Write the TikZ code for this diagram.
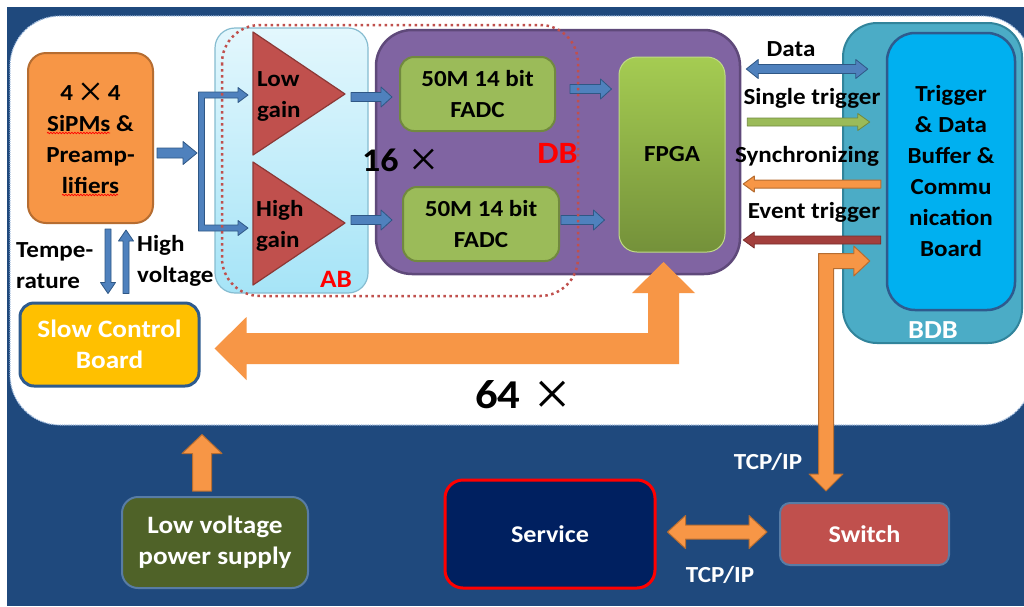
\documentclass[tikz,border=0pt]{standalone}
\usepackage{fontspec}
\setmainfont{Carlito}[FakeStretch=1.09]
\newfontfamily\thinfont{Liberation Serif}
\usetikzlibrary{calc,decorations.pathmorphing}

\definecolor{navy}{HTML}{1F497D}
\definecolor{regionedge}{HTML}{9DB9DC}
\definecolor{orangeF}{HTML}{F79646}
\definecolor{orangeD}{HTML}{B66D31}
\definecolor{blueF}{HTML}{4F81BD}
\definecolor{blueD}{HTML}{2F5785}
\definecolor{redF}{HTML}{C0504D}
\definecolor{redD}{HTML}{8C3836}
\definecolor{greenF}{HTML}{9BBB59}
\definecolor{greenD}{HTML}{71893F}
\definecolor{purpleF}{HTML}{8064A2}
\definecolor{purpleD}{HTML}{5F497A}
\definecolor{cyanTop}{HTML}{E3F7FD}
\definecolor{cyanBot}{HTML}{A6E4F7}
\definecolor{cyanD}{HTML}{86BCD0}
\definecolor{tealF}{HTML}{4BACC6}
\definecolor{tealD}{HTML}{31849B}
\definecolor{skyF}{HTML}{00B0F0}
\definecolor{boardD}{HTML}{2E5B8E}
\definecolor{goldF}{HTML}{FFC000}
\definecolor{oliveF}{HTML}{4F6228}
\definecolor{serviceF}{HTML}{002060}
\definecolor{fpgaTop}{HTML}{A5CC52}
\definecolor{fpgaBot}{HTML}{74913A}
\definecolor{evtF}{HTML}{A33F3C}
\definecolor{evtD}{HTML}{7A2C2A}

% thin multiplication sign: {size}{vertical shift}
\newcommand\timessign[2]{\raisebox{#2}{\thinfont\mdseries\fontsize{#1}{#1}\selectfont ×}}

% block arrow: [style]{from}{to}{shaft half width}{head half width}{head length}
\newcommand\blockarrow[6][]{%
  \coordinate (bahead) at ($(#3)!#6!(#2)$);
  \path[#1] ($(#2)!#4!90:(#3)$) -- ($(bahead)!#4!90:(#3)$) -- ($(bahead)!#5!90:(#3)$)
    -- (#3) -- ($(bahead)!#5!-90:(#3)$) -- ($(bahead)!#4!-90:(#3)$)
    -- ($(#2)!#4!-90:(#3)$) -- cycle;}
% double-headed block arrow, same arguments
\newcommand\dblarrow[6][]{%
  \coordinate (daA) at ($(#2)!#6!(#3)$);
  \coordinate (daB) at ($(#3)!#6!(#2)$);
  \path[#1] (#2) -- ($(daA)!#5!90:(#3)$) -- ($(daA)!#4!90:(#3)$) -- ($(daB)!#4!90:(#3)$)
    -- ($(daB)!#5!90:(#3)$) -- (#3) -- ($(daB)!#5!-90:(#3)$) -- ($(daB)!#4!-90:(#3)$)
    -- ($(daA)!#4!-90:(#3)$) -- ($(daA)!#5!-90:(#3)$) -- cycle;}

\begin{document}
\begin{tikzpicture}[x=1pt,y=-1pt,line join=round,
  txt/.style={font=\fontsize{23}{31}\selectfont\bfseries,align=center,inner sep=0pt},
  wtxt/.style={txt,text=white},
  arrowblue/.style={fill=blueF,draw=blueD,line width=0.8pt},
  arroworange/.style={fill=orangeF,draw=orangeD,line width=1pt},
  arrowgreen/.style={fill=greenF,draw=greenD,line width=0.8pt},
  arrowevt/.style={fill=evtF,draw=evtD,line width=0.8pt},
  bigorange/.style={fill=orangeF},
  squiggle/.style={red,line width=0.7pt,decorate,decoration={snake,amplitude=0.8pt,segment length=3pt}}]
\useasboundingbox (0,0) rectangle (1024,606);

% backdrop and the 64-fold detector unit region
\fill[navy] (7,7) rectangle (1024,606);
\path[fill=white,draw=regionedge,densely dotted,line width=1.2pt,rounded corners=50pt]
  (10,16) rectangle (1032,425);

% SiPM front end
\node[txt,draw=orangeD,fill=orangeF,line width=2pt,rounded corners=18pt,
  minimum width=125pt,minimum height=170pt] (sipm) at (90.5,138)
  {4\hspace{5pt}\timessign{44}{-6pt}\hspace{5pt}4\\SiPMs \&\\Preamp-\\lifiers};
\draw[squiggle] ($(sipm.center)+(-43.5,-5)$) -- ($(sipm.center)+(19.5,-5)$);
\draw[squiggle] ($(sipm.center)+(-28.5,57)$) -- ($(sipm.center)+(27.5,57)$);

% analog board
\node[draw=cyanD,top color=cyanTop,bottom color=cyanBot,line width=1.2pt,
  rounded corners=20pt,minimum width=153pt,minimum height=265pt] (ab) at (291.5,160.5) {};
\node[txt,font=\fontsize{25}{25}\selectfont\bfseries,text=red,anchor=base] (ablbl) at (336,287) {AB};

\path[draw=redD,fill=redF,line width=1.2pt]
  (253,32) -- (253,155) -- (345,94) coordinate (lgtip) -- cycle;
\node[txt,align=left,anchor=west] (lgtxt) at (257,96) {Low\\gain};
\path[draw=redD,fill=redF,line width=1.2pt]
  (253,162) -- (253,285) -- (345,223) coordinate (hgtip) -- cycle;
\node[txt,align=left,anchor=west] (hgtxt) at (256,226) {High\\gain};

% digitizer board
\node[draw=purpleD,fill=purpleF,line width=2.5pt,rounded corners=36pt,
  minimum width=364pt,minimum height=244pt] (db) at (558,152) {};
\node[txt,draw=greenD,fill=greenF,line width=2pt,rounded corners=14pt,
  minimum width=155pt,minimum height=74pt] (fadcA) at (477.5,94) {50M 14 bit\\FADC};
\node[txt,draw=greenD,fill=greenF,line width=2pt,rounded corners=14pt,
  minimum width=156pt,minimum height=74pt] (fadcB) at (481,224) {50M 14 bit\\FADC};
\node[txt,draw=fpgaTop!70!white,top color=fpgaTop,bottom color=fpgaBot,line width=1pt,
  rounded corners=18pt,minimum width=106pt,minimum height=195pt] (fpga) at (672,154.5) {FPGA};
\node[txt,font=\fontsize{33}{33}\selectfont\bfseries,anchor=base west] (sixteen) at (362,171)
  {16\hspace{11pt}\timessign{51}{-5pt}};
\node[txt,font=\fontsize{31}{31}\selectfont\bfseries,text=red,anchor=base] (dblbl) at (557.5,163) {DB};

% split of the preamplifier signal into two gains
\coordinate (sA) at ($(sipm.east)+(3,15)$);
\coordinate (sB) at (197,153);
\blockarrow[arrowblue]{sA}{sB}{5pt}{11.5pt}{14pt}
\coordinate (lgin) at (248,95);
\coordinate (hgin) at (248,228);
\path[arrowblue] ($(lgin)+(-49.5,-3)$) -- ($(lgin)+(-10,-3)$) -- ($(lgin)+(-10,-7.5)$) -- (lgin)
  -- ($(lgin)+(-10,7.5)$) -- ($(lgin)+(-10,3)$) -- ($(lgin)+(-43.5,3)$)
  -- ($(hgin)+(-43.5,-3)$) -- ($(hgin)+(-10,-3)$) -- ($(hgin)+(-10,-7.5)$) -- (hgin)
  -- ($(hgin)+(-10,7.5)$) -- ($(hgin)+(-10,3)$) -- ($(hgin)+(-49.5,3)$) -- cycle;

% amplifiers -> FADCs -> FPGA
\coordinate (t1a) at ($(lgtip)+(6,3)$);
\coordinate (t1b) at ($(fadcA.west)+(-7,3)$);
\coordinate (t2a) at ($(hgtip)+(6,-3)$);
\coordinate (t2b) at ($(fadcB.west)+(-10,-4)$);
\coordinate (f1a) at ($(fadcA.east)+(14,-5)$);
\coordinate (f1b) at ($(fpga.west)+(-7,-65.5)$);
\coordinate (f2a) at ($(fadcB.east)+(1,-4)$);
\coordinate (f2b) at ($(fpga.west)+(-14,65.5)$);
\blockarrow[arrowblue]{t1a}{t1b}{4.5pt}{10pt}{11pt}
\blockarrow[arrowblue]{t2a}{t2b}{4.5pt}{10pt}{11pt}
\blockarrow[arrowblue]{f1a}{f1b}{4.5pt}{10pt}{11pt}
\blockarrow[arrowblue]{f2a}{f2b}{4.5pt}{10pt}{11pt}

% AB + DB grouping
\draw[redF,line width=2.5pt,dash pattern=on 2.5pt off 3.5pt,rounded corners=38pt]
  (222,25) rectangle (578,296);

% slow control
\node[wtxt,font=\fontsize{25}{31}\selectfont\bfseries,draw=boardD,fill=goldF,line width=3pt,
  rounded corners=14pt,minimum width=179pt,minimum height=83pt] (scb) at (109.5,344.5)
  {Slow Control\\Board};
\coordinate (tA) at ($(sipm.south)+(17.5,5)$);
\coordinate (tB) at ($(scb.north)+(-1.5,-8)$);
\coordinate (hA) at ($(scb.north)+(16.5,-8)$);
\coordinate (hB) at ($(sipm.south)+(35.5,6)$);
\blockarrow[arrowblue]{tA}{tB}{3pt}{7.5pt}{11pt}
\blockarrow[arrowblue]{hA}{hB}{3pt}{7.5pt}{11pt}
\node[txt,align=left,anchor=north west] (templbl) at (16,242) {Tempe-\\rature};
\node[txt,align=left,anchor=north west] (hvlbl) at (137,235) {High\\voltage};

% FPGA <-> slow control bus
\coordinate (bigtop) at ($(fpga.south)+(-8.5,9.5)$);
\coordinate (bigleft) at ($(scb.east)+(14,4)$);
\fill[bigorange] (bigtop) -- ++(31.5,31) -- ++(-16,0) -- ($(bigtop |- bigleft)+(15.5,15.5)$)
  -- ($(bigleft)+(32,15.5)$) -- ++(0,16) -- (bigleft) -- ++(32,-31.5) -- ++(0,16)
  -- ($(bigtop |- bigleft)+(-15.5,-15.5)$) -- ($(bigtop)+(-15.5,31)$) -- ++(-16,0) -- cycle;
\node[txt,font=\fontsize{41}{41}\selectfont\bfseries,anchor=base west] (sixtyfour) at (475,408)
  {64\hspace{14pt}\timessign{64}{-7pt}};

% trigger and data buffer board
\node[draw=tealD,fill=tealF,line width=2pt,rounded corners=34pt,
  minimum width=179pt,minimum height=320pt] (bdb) at (932.5,183) {};
\node[txt,draw=boardD,fill=skyF,line width=2.5pt,rounded corners=28pt,
  minimum width=128pt,minimum height=277pt] (tdb) at (951,171.5)
  {Trigger\\\& Data\\Buffer \&\\Commu\\nication\\Board};
\node[txt,font=\fontsize{26}{26}\selectfont\bfseries,text=white] (bdblbl) at (933,330) {BDB};

% links between DB and BDB
\coordinate (dA) at ($(db.east)+(5,-83)$);
\coordinate (dB) at ($(tdb.west)+(-18,-102.5)$);
\coordinate (sgA) at ($(db.east)+(6,-30)$);
\coordinate (sgB) at ($(tdb.west)+(-16,-49.5)$);
\coordinate (syA) at ($(tdb.west)+(-5,12.5)$);
\coordinate (syB) at ($(db.east)+(2,32)$);
\coordinate (evA) at ($(tdb.west)+(-5,68.5)$);
\coordinate (evB) at ($(db.east)+(2,88)$);
\dblarrow[arrowblue]{dA}{dB}{4.5pt}{9.5pt}{12pt}
\blockarrow[arrowgreen]{sgA}{sgB}{4pt}{8.5pt}{12pt}
\blockarrow[arroworange]{syA}{syB}{4pt}{8pt}{11pt}
\blockarrow[arrowevt]{evA}{evB}{4pt}{8pt}{11pt}
\node[txt,anchor=base] (datalbl) at (791,56) {Data};
\node[txt,anchor=base] (singlelbl) at (812,104) {Single trigger};
\node[txt,anchor=base] (synclbl) at (807,162) {Synchronizing};
\node[txt,anchor=base] (eventlbl) at (814,218) {Event trigger};

% outside the unit
\node[wtxt,font=\fontsize{25}{31}\selectfont\bfseries,draw=boardD!80!white,fill=oliveF,line width=2pt,
  rounded corners=16pt,minimum width=186pt,minimum height=91pt] (lv) at (215,542.5)
  {Low voltage\\power supply};
\node[wtxt,font=\fontsize{24}{24}\selectfont\bfseries,draw=red,fill=serviceF,line width=3pt,
  rounded corners=18pt,minimum width=210pt,minimum height=108pt] (service) at (550,534) {Service};
\node[wtxt,font=\fontsize{24}{24}\selectfont\bfseries,draw=boardD!80!white,fill=redF,line width=2pt,
  rounded corners=10pt,minimum width=169pt,minimum height=62pt] (switch) at (864.5,534) {Switch};

\coordinate (lvA) at ($(lv.north)+(-13,-5)$);
\coordinate (lvB) at ($(scb.south)+(92.5,47)$);
\blockarrow[arroworange]{lvA}{lvB}{9.5pt}{20pt}{19pt}

\coordinate (svA) at ($(service.east)+(11,-2)$);
\coordinate (svB) at ($(switch.west)+(-12,-2)$);
\dblarrow[arroworange]{svA}{svB}{7pt}{16.5pt}{18pt}
\node[wtxt,font=\fontsize{23}{23}\selectfont\bfseries] (tcpb) at (720,575) {TCP/IP};

\coordinate (ea) at ($(tdb.west)+(-16,89.5)$);
\coordinate (eb) at ($(switch.north)+(-38.5,-11)$);
\path[arroworange] (ea) -- ++(-16,-15) -- ++(0,7.5) -- ($(eb |- ea)+(-7.5,-7.5)$)
  -- ($(eb)+(-7.5,-17)$) -- ++(-9.5,0) -- (eb) -- ++(17,-17) -- ++(-9.5,0)
  -- ($(eb |- ea)+(7.5,7.5)$) -- ($(ea)+(-16,7.5)$) -- ++(0,7.5) -- cycle;
\node[wtxt,font=\fontsize{23}{23}\selectfont\bfseries] (tcpa) at (768,462) {TCP/IP};
\end{tikzpicture}
\end{document}
